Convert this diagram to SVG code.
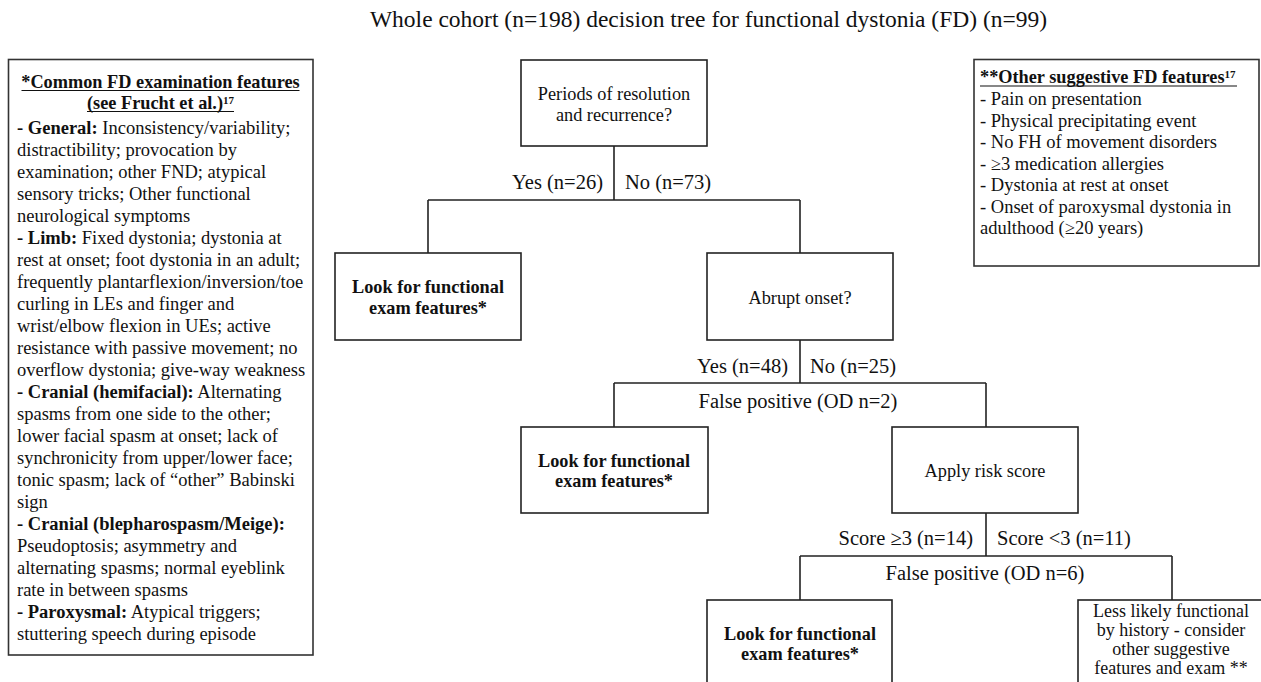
<svg xmlns="http://www.w3.org/2000/svg" width="1261" height="682" viewBox="0 0 1261 682" font-family="'Liberation Serif','Times New Roman',serif">
<style>
text{font-family:"Liberation Serif","Times New Roman",serif;fill:#111}
.title{font-size:23.5px}
.box{fill:#fff;stroke:#222;stroke-width:1.6}
.note{fill:#fff;stroke:#333;stroke-width:1.6}
.bt{font-size:18.3px;text-anchor:middle}
.bb{font-size:18.3px;text-anchor:middle;font-weight:bold}
.lbl{font-size:20.5px}
.body{font-size:18.5px}
.hd{font-size:18.3px;font-weight:bold}
.sup{font-size:11px}
.ul{stroke:#111;stroke-width:1.1}
.conn{fill:none;stroke:#222;stroke-width:1.6}
</style>
<rect width="1261" height="682" fill="#fff"/>
<text class="title" x="708.5" y="27" text-anchor="middle">Whole cohort (n=198) decision tree for functional dystonia (FD) (n=99)</text>

<g id="connectors">
<path class="conn" d="M614 146V200M428 200H800M428 200V253M800 200V253"/>
<path class="conn" d="M800 340V383M614 383H986M614 383V427M986 383V427"/>
<path class="conn" d="M986 513V556M800 556H1172M800 556V600M1172 556V600"/>
<text class="lbl" x="603" y="189" text-anchor="end">Yes (n=26)</text>
<text class="lbl" x="625" y="189">No (n=73)</text>
<text class="lbl" x="788" y="373" text-anchor="end">Yes (n=48)</text>
<text class="lbl" x="810" y="373">No (n=25)</text>
<text class="lbl" x="798" y="408" text-anchor="middle">False positive (OD n=2)</text>
<text class="lbl" x="973" y="545" text-anchor="end">Score ≥3 (n=14)</text>
<text class="lbl" x="997" y="545">Score &lt;3 (n=11)</text>
<text class="lbl" x="985" y="580" text-anchor="middle">False positive (OD n=6)</text>
</g>

<g id="n-periods">
<rect class="box" x="521" y="60" width="186" height="86"/>
<text class="bt" x="614" y="100">Periods of resolution</text>
<text class="bt" x="614" y="121">and recurrence?</text>
</g>
<g id="n-look1">
<rect class="box" x="335" y="253" width="186" height="87"/>
<text class="bb" x="428" y="293">Look for functional</text>
<text class="bb" x="428" y="314">exam features*</text>
</g>
<g id="n-abrupt">
<rect class="box" x="707" y="253" width="186" height="87"/>
<text class="bt" x="800" y="304">Abrupt onset?</text>
</g>
<g id="n-look2">
<rect class="box" x="521" y="427" width="187" height="86"/>
<text class="bb" x="614" y="467">Look for functional</text>
<text class="bb" x="614" y="487">exam features*</text>
</g>
<g id="n-risk">
<rect class="box" x="892" y="427" width="186" height="86"/>
<text class="bt" x="985" y="477">Apply risk score</text>
</g>
<g id="n-look3">
<rect class="box" x="707" y="600" width="185" height="110"/>
<text class="bb" x="800" y="640">Look for functional</text>
<text class="bb" x="800" y="660">exam features*</text>
</g>
<g id="n-less">
<rect class="box" x="1078" y="600" width="200" height="110"/>
<text class="bt" x="1171" y="617" style="font-size:18px">Less likely functional</text>
<text class="bt" x="1171" y="636" style="font-size:18px">by history - consider</text>
<text class="bt" x="1171" y="655" style="font-size:18px">other suggestive</text>
<text class="bt" x="1171" y="674" style="font-size:18px">features and exam **</text>
</g>

<g id="n-common-features">
<rect class="note" x="8.5" y="59.5" width="304.5" height="595.5"/>
<text class="hd" x="160.5" y="87.5" text-anchor="middle">*Common FD examination features</text>
<line class="ul" x1="21.5" y1="90.5" x2="299.5" y2="90.5"/>
<text class="hd" x="160.5" y="108.5" text-anchor="middle">(see Frucht et al.)<tspan class="sup" baseline-shift="5.5px">17</tspan></text>
<line class="ul" x1="87" y1="111.5" x2="234" y2="111.5"/>
<text class="body">
<tspan x="17" y="134"><tspan font-weight="bold">- General:</tspan> Inconsistency/variability;</tspan>
<tspan x="17" y="156">distractibility; provocation by</tspan>
<tspan x="17" y="178">examination; other FND; atypical</tspan>
<tspan x="17" y="200">sensory tricks; Other functional</tspan>
<tspan x="17" y="222">neurological symptoms</tspan>
<tspan x="17" y="244"><tspan font-weight="bold">- Limb:</tspan> Fixed dystonia; dystonia at</tspan>
<tspan x="17" y="266">rest at onset; foot dystonia in an adult;</tspan>
<tspan x="17" y="288">frequently plantarflexion/inversion/toe</tspan>
<tspan x="17" y="310">curling in LEs and finger and</tspan>
<tspan x="17" y="332">wrist/elbow flexion in UEs; active</tspan>
<tspan x="17" y="354">resistance with passive movement; no</tspan>
<tspan x="17" y="376">overflow dystonia; give-way weakness</tspan>
<tspan x="17" y="398"><tspan font-weight="bold">- Cranial (hemifacial):</tspan> Alternating</tspan>
<tspan x="17" y="420">spasms from one side to the other;</tspan>
<tspan x="17" y="442">lower facial spasm at onset; lack of</tspan>
<tspan x="17" y="464">synchronicity from upper/lower face;</tspan>
<tspan x="17" y="486">tonic spasm; lack of “other” Babinski</tspan>
<tspan x="17" y="508">sign</tspan>
<tspan x="17" y="530" font-weight="bold">- Cranial (blepharospasm/Meige):</tspan>
<tspan x="17" y="552">Pseudoptosis; asymmetry and</tspan>
<tspan x="17" y="574">alternating spasms; normal eyeblink</tspan>
<tspan x="17" y="596">rate in between spasms</tspan>
<tspan x="17" y="618"><tspan font-weight="bold">- Paroxysmal:</tspan> Atypical triggers;</tspan>
<tspan x="17" y="640">stuttering speech during episode</tspan>
</text>
</g>

<g id="n-other-features">
<rect class="note" x="974" y="59.5" width="285" height="206.5"/>
<text class="hd" x="980" y="83">**Other suggestive FD features<tspan class="sup" baseline-shift="5.5px">17</tspan></text>
<line class="ul" x1="980" y1="86" x2="1237" y2="86"/>
<text class="body">
<tspan x="980" y="105">- Pain on presentation</tspan>
<tspan x="980" y="126.5">- Physical precipitating event</tspan>
<tspan x="980" y="148">- No FH of movement disorders</tspan>
<tspan x="980" y="169.5">- ≥3 medication allergies</tspan>
<tspan x="980" y="191">- Dystonia at rest at onset</tspan>
<tspan x="980" y="212.5">- Onset of paroxysmal dystonia in</tspan>
<tspan x="980" y="234">adulthood (≥20 years)</tspan>
</text>
</g>
</svg>
